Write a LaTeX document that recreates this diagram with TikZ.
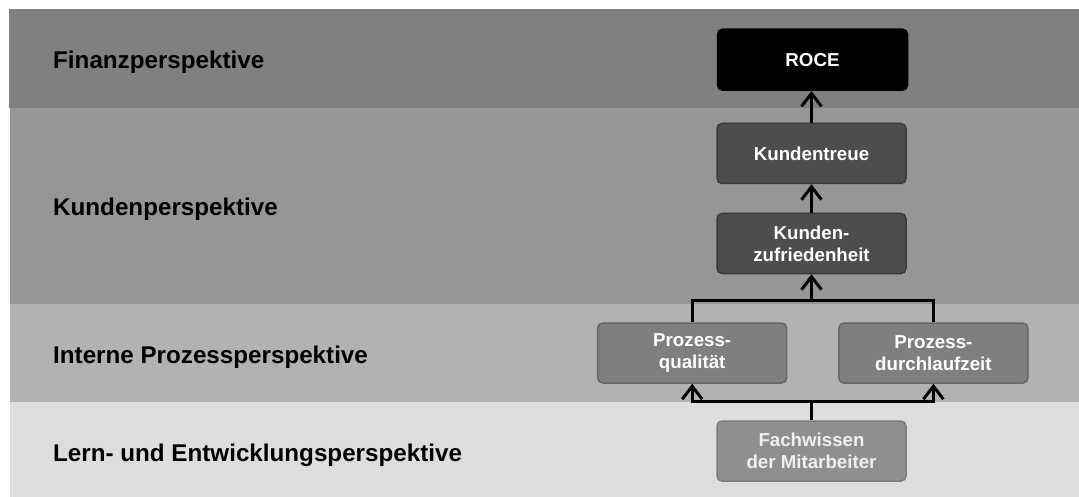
\documentclass[tikz,border=0pt]{standalone}
\usepackage{fontspec}
\setmainfont{Liberation Sans}
\usetikzlibrary{arrows.meta}
\definecolor{bandA}{HTML}{808080}
\definecolor{bandB}{HTML}{969696}
\definecolor{bandC}{HTML}{B2B2B2}
\definecolor{bandD}{HTML}{DDDDDD}
\definecolor{darkbox}{HTML}{4D4D4D}
\definecolor{darkboxline}{HTML}{3A3A3A}
\definecolor{midbox}{HTML}{7F7F7F}
\definecolor{midboxline}{HTML}{666666}
\definecolor{lightbox}{HTML}{8F8F8F}
\definecolor{lightboxline}{HTML}{7A7A7A}
\definecolor{lighttext}{HTML}{F0F0F0}
\tikzset{
  bandlabel/.style={anchor=base west, inner sep=0pt, font=\bfseries\fontsize{24.2}{28}\selectfont, text=black},
  kpibox/.style={rectangle, rounded corners=5pt, line width=1.5pt, minimum width=189pt, minimum height=60pt, inner sep=0pt, align=center, text=white, font=\bfseries\fontsize{18.7}{22}\selectfont},
  topbox/.style={kpibox, fill=black, draw=black},
  darkkpi/.style={kpibox, fill=darkbox, draw=darkboxline},
  midkpi/.style={kpibox, fill=midbox, draw=midboxline},
  lightkpi/.style={kpibox, fill=lightbox, draw=lightboxline, text=lighttext},
  link/.style={draw=black, line width=3pt},
  arr/.style={link, -{Straight Barb[length=13pt, width=20pt, line width=3pt]}},
}
\begin{document}
\begin{tikzpicture}[x=1pt, y=-1pt]
\useasboundingbox (0,0) rectangle (1079,497);
\fill[bandA] (9,9) rectangle (1079,108);
\fill[bandB] (10,108) rectangle (1079,304);
\fill[bandC] (10,304) rectangle (1079,402);
\fill[bandD] (10,402) rectangle (1079,497);

\node[bandlabel] (lf) at (53,68.3) {Finanzperspektive};
\node[bandlabel] (lk) at (53,215) {Kundenperspektive};
\node[bandlabel] (li) at (53,363) {Interne Prozessperspektive};
\node[bandlabel] (ll) at (53,461.7) {Lern- und Entwicklungsperspektive};

\node[topbox, minimum width=190pt, minimum height=61pt] (roce) at (812.5,59.7) {ROCE};
\node[darkkpi] (kt) at (811.5,153.5) {Kundentreue};
\node[darkkpi] (kz) at (811.5,243.5) {Kunden-\\zufriedenheit};
\node[midkpi] (pq) at (692.2,353) {Prozess-\\qualität};
\node[midkpi] (pd) at (933.4,353) {Prozess-\\durchlaufzeit};
\node[lightkpi] (fw) at (811.5,451) {Fachwissen\\der Mitarbeiter};

\coordinate (jt) at (811.5,300.7);
\coordinate (jb) at (811.5,401);

\draw[arr] (kt.north) -- (kt.north |- roce.south);
\draw[arr] (kz.north) -- (kt.south);
\draw[link] (pq.north) |- (jt) -| (pd.north);
\draw[arr] (jt) -- (kz.south);
\draw[link] (fw.north) -- (jb);
\draw[arr] (jb) -| (pq.south);
\draw[arr] (jb) -| (pd.south);
\end{tikzpicture}
\end{document}
